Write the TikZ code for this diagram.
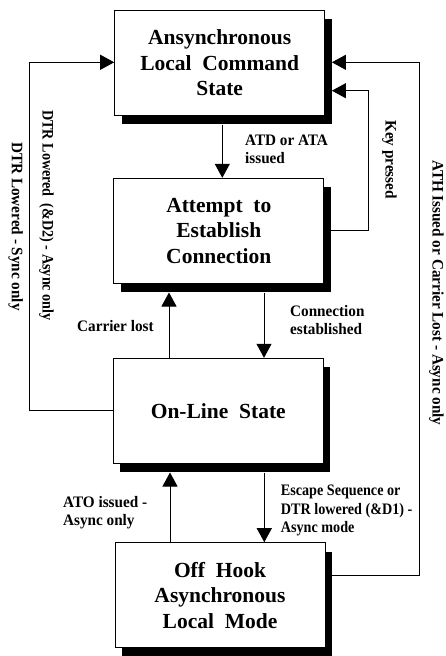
\documentclass[tikz,border=0pt]{standalone}
\usepackage{fontspec}
\setmainfont{Liberation Serif}
\newfontfamily\lblfont[FakeStretch=0.95]{Liberation Serif}
\newfontfamily\lblnarrow[FakeStretch=0.885]{Liberation Serif}
\usetikzlibrary{arrows.meta,calc}
\begin{document}
\begin{tikzpicture}[x=1pt,y=-1pt,
  state/.style={draw,line width=1pt,fill=white,minimum width=210pt,minimum height=105pt,
    align=center,inner sep=0pt,font=\fontsize{21.5}{25.5}\selectfont\bfseries},
  shade/.style={fill=black,minimum width=210pt,minimum height=105pt,inner sep=0pt},
  conn/.style={line width=1pt},
  arr/.style={conn,-{Triangle[length=14pt,width=15pt]}},
  lbl/.style={font=\lblfont\fontsize{16}{18}\selectfont\bfseries,align=left,inner sep=0pt,anchor=north west},
  nlbl/.style={lbl,font=\lblnarrow\fontsize{16}{18.3}\selectfont\bfseries},
  vlbl/.style={lbl,rotate=-90},
]
\useasboundingbox (0,0) rectangle (446,656);
% shadows
\node[shade] (s1) at (226.7,71.9) {};
\node[shade] (s2) at (225.8,239.8) {};
\node[shade] (s3) at (225.3,419.8) {};
\node[shade] (s4) at (227,604.2) {};
% states
\node[state] (b1) at (219.7,62.9) {Ansynchronous\\Local\ \ Command\\State};
\node[state] (b2) at (218.8,230.8) {Attempt\ \ to\\Establish\\Connection};
\node[state] (b3) at (218.3,410.8) {On-Line\ \ State};
\node[state] (b4) at (220,595.2) {Off\ \ Hook\\Asynchronous\\Local\ \ Mode};
% helper coordinates
\coordinate (xA) at (222.3,0);
\coordinate (xCL) at (169,0);
\coordinate (xCE) at (264,0);
\coordinate (xES) at (264.3,0);
\coordinate (xATO) at (170,0);
\coordinate (kp) at (368.3,90.7);
\coordinate (ath1) at (419.5,575);
\coordinate (ath2) at (419.5,62.3);
\coordinate (dtr) at (29,62.3);
% connectors
\draw[arr] (s1.south -| xA) -- (b2.north -| xA);
\draw[arr] (b2.east) -| (kp) -- (s1.east |- kp);
\draw[arr] (b3.north -| xCL) -- (s2.south -| xCL);
\draw[arr] (s2.south -| xCE) -- (b3.north -| xCE);
\draw[arr] (s3.south -| xES) -- (b4.north -| xES);
\draw[arr] (b4.north -| xATO) -- (s3.south -| xATO);
\draw[arr] (s4.east |- ath1) -- (ath1) -- (ath2) -- (s1.east |- ath2);
\draw[arr] (b3.west) -| (dtr) -- (b1.west |- dtr);
% labels
\node[lbl] (l1) at (245,135) {ATD or ATA\\issued};
\node[lbl] (l2) at (290,305) {Connection\\established};
\node[lbl] (l3) at (77,320) {Carrier lost};
\node[lbl] (l4) at (63,496) {ATO issued -\\Async only};
\node[nlbl] (l5) at (280.7,485) {Escape Sequence or\\DTR lowered (\&D1) -\\Async mode};
\node[vlbl] (l6) at (397,120) {Key pressed};
\node[vlbl] (l7) at (444,160) {ATH Issued or Carrier Lost - Async only};
\node[vlbl,font=\lblnarrow\fontsize{16}{18}\selectfont\bfseries] (l8) at (54,110) {DTR Lowered\ \ (\&D2) - Async only};
\node[vlbl] (l9) at (23.3,142) {DTR Lowered - Sync only};
\end{tikzpicture}
\end{document}
